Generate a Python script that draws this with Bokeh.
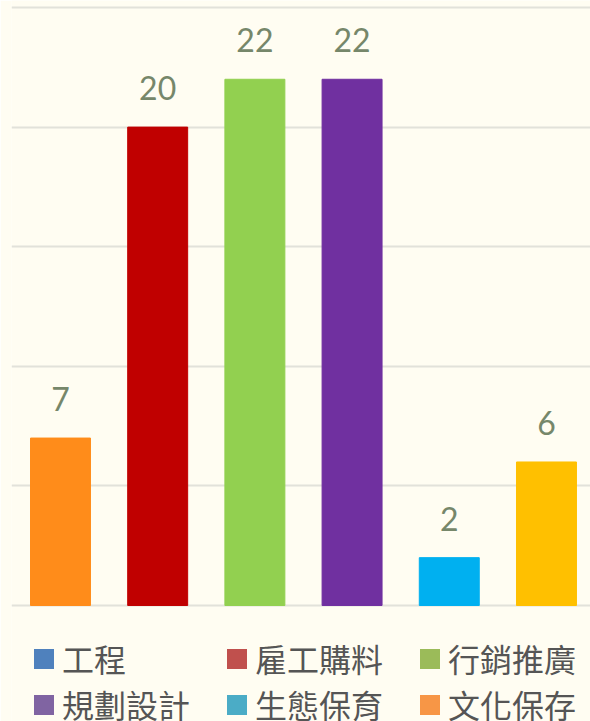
from bokeh.plotting import figure
from bokeh.models import Legend, LegendItem, FixedTicker, Range1d, ColumnDataSource
from bokeh.core.properties import value
from bokeh.embed import file_html
from bokeh.resources import INLINE

# data
values = [7, 20, 22, 22, 2, 6]
bar_colors = ["#FF8C1A", "#C00000", "#92D050", "#7030A0", "#00B0F0", "#FFC000"]
legend_labels = ["工程", "雇工購料", "行銷推廣", "規劃設計", "生態保育", "文化保存"]
legend_colors = ["#4F81BD", "#C0504D", "#9BBB59", "#8064A2", "#4BACC6", "#F79646"]
grid_ticks = [0, 5, 10, 15, 20, 25]

BG = "#FFFDF2"
xs = list(range(len(values)))
src = ColumnDataSource(dict(x=xs, top=values, color=bar_colors,
                            label=[str(v) for v in values]))

p = figure(width=590, height=721, output_backend="svg", toolbar_location=None,
           x_range=Range1d(-0.504, 5.453), y_range=Range1d(-4.85, 25.293),
           min_border_left=11, min_border_right=0, min_border_top=0, min_border_bottom=0,
           background_fill_color=BG, border_fill_color=BG, outline_line_color=None)

p.vbar(x="x", top="top", bottom=0, width=0.617, color="color", source=src)
p.text(x="x", y="top", text="label", source=src, y_offset=-39,
       text_align="center", text_baseline="alphabetic",
       text_font=value("Lato"), text_font_size="32px", text_color="#76876A")

p.xaxis.visible = False
p.yaxis.visible = False
p.xgrid.visible = False
p.ygrid.ticker = FixedTicker(ticks=grid_ticks)
p.ygrid.grid_line_color = "#E2E2DA"
p.ygrid.grid_line_width = 2
p.ygrid.level = "underlay"

leg_src = ColumnDataSource(dict(x=xs, color=legend_colors, label=legend_labels))
r_leg = p.vbar(x="x", top=0, bottom=0, width=0, fill_color="color",
               line_color=None, source=leg_src)

# column-major fill: order so that rows read left to right
order = [0, 3, 1, 4, 2, 5]
items = [LegendItem(label=legend_labels[i], renderers=[r_leg], index=i) for i in order]

leg = Legend(items=items, ncols=3, location=(20, -6),
             glyph_width=25, glyph_height=25, label_standoff=6,
             label_width=162, label_height=36, spacing=0, padding=0, margin=0,
             label_text_font="Noto Sans CJK TC", label_text_font_size="32px",
             label_text_color="#555555", background_fill_alpha=0,
             border_line_color=None)
p.add_layout(leg, "center")

open("out.html", "w").write(file_html(p, INLINE))
